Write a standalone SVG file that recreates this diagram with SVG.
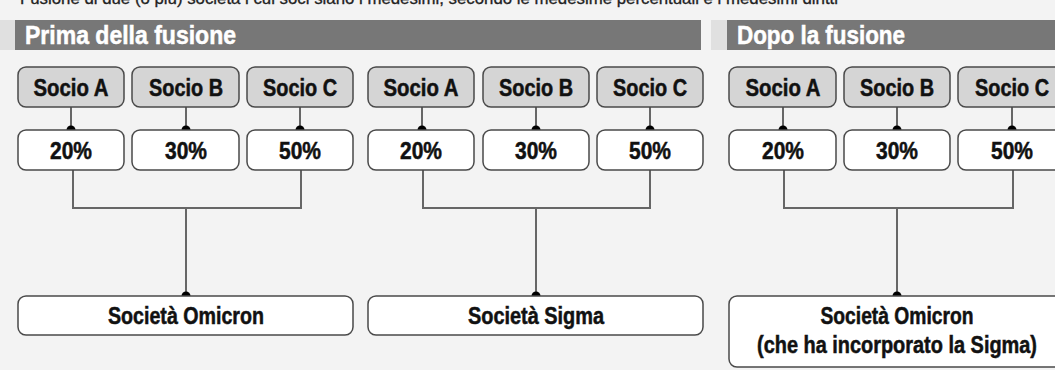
<svg xmlns="http://www.w3.org/2000/svg" width="1055" height="370" viewBox="0 0 1055 370">
<style>
.bg{fill:#f3f3f3}
.strip{fill:#e0e0e0}
.bar{fill:#777777}
.ht{font-family:"Liberation Sans",Arial,sans-serif;font-weight:bold;font-size:25px;fill:#ffffff;stroke:#ffffff;stroke-width:0.5}
.socio{fill:#d5d5d5;stroke:#4a4a4a;stroke-width:1.5}
.pct{fill:#ffffff;stroke:#4a4a4a;stroke-width:1.5}
.t{font-family:"Liberation Sans",Arial,sans-serif;font-weight:bold;font-size:23px;fill:#111111;stroke:#111111;stroke-width:0.5;text-anchor:middle}
.top{font-family:"Liberation Sans",Arial,sans-serif;font-size:16px;fill:#222222;stroke:#222222;stroke-width:0.3}
.ln{fill:none;stroke:#666666;stroke-width:2}
.dot{fill:#000000}
</style>
<rect class="bg" x="0" y="0" width="1055" height="370"/>
<text class="top" x="20" y="4" textLength="818" lengthAdjust="spacingAndGlyphs">Fusione di due (o più) società i cui soci siano i medesimi, secondo le medesime percentuali e i medesimi diritti</text>
<g id="header-prima">
<rect class="strip" x="0" y="20" width="15" height="30"/>
<rect class="bar" x="15" y="20" width="686" height="30"/>
<text class="ht" x="25" y="44" textLength="211" lengthAdjust="spacingAndGlyphs">Prima della fusione</text>
</g>
<g id="header-dopo">
<rect class="strip" x="711" y="20" width="16" height="30"/>
<rect class="bar" x="727" y="20" width="328" height="30"/>
<text class="ht" x="737" y="44" textLength="168" lengthAdjust="spacingAndGlyphs">Dopo la fusione</text>
</g>
<g id="connectors">
<path class="ln" d="M71 107V130M186 107V130M300 107V130M73 170V208H301V170M186 208V296"/>
<path class="ln" d="M422 107V130M536 107V130M650 107V130M423 170V208H650V170M536 208V296"/>
<path class="ln" d="M783 107V130M897 107V130M1012 107V130M784 170V208H1013V170M897 208V296"/>
<circle class="dot" cx="71" cy="130" r="4.5"/><circle class="dot" cx="186" cy="130" r="4.5"/><circle class="dot" cx="300" cy="130" r="4.5"/>
<circle class="dot" cx="422" cy="130" r="4.5"/><circle class="dot" cx="536" cy="130" r="4.5"/><circle class="dot" cx="650" cy="130" r="4.5"/>
<circle class="dot" cx="783" cy="130" r="4.5"/><circle class="dot" cx="897" cy="130" r="4.5"/><circle class="dot" cx="1012" cy="130" r="4.5"/>
<circle class="dot" cx="186" cy="296" r="4.5"/><circle class="dot" cx="536" cy="296" r="4.5"/><circle class="dot" cx="897" cy="296" r="4.5"/>
</g>
<g id="p1-socioA"><rect class="socio" x="18" y="67" width="106" height="40" rx="8"/><text class="t" x="71" y="96" textLength="75" lengthAdjust="spacingAndGlyphs">Socio A</text></g>
<g id="p1-socioB"><rect class="socio" x="132" y="67" width="107" height="40" rx="8"/><text class="t" x="186" y="96" textLength="74" lengthAdjust="spacingAndGlyphs">Socio B</text></g>
<g id="p1-socioC"><rect class="socio" x="247" y="67" width="106" height="40" rx="8"/><text class="t" x="300" y="96" textLength="74" lengthAdjust="spacingAndGlyphs">Socio C</text></g>
<g id="p1-pA"><rect class="pct" x="18" y="130" width="106" height="40" rx="8"/><text class="t" x="71" y="159" textLength="42" lengthAdjust="spacingAndGlyphs">20%</text></g>
<g id="p1-pB"><rect class="pct" x="132" y="130" width="107" height="40" rx="8"/><text class="t" x="186" y="159" textLength="42" lengthAdjust="spacingAndGlyphs">30%</text></g>
<g id="p1-pC"><rect class="pct" x="247" y="130" width="106" height="40" rx="8"/><text class="t" x="300" y="159" textLength="42" lengthAdjust="spacingAndGlyphs">50%</text></g>
<g id="omicron"><rect class="pct" x="18" y="296" width="335" height="39" rx="8"/><text class="t" x="186" y="324" textLength="156" lengthAdjust="spacingAndGlyphs">Società Omicron</text></g>
<g id="p2-socioA"><rect class="socio" x="368" y="67" width="106" height="40" rx="8"/><text class="t" x="421" y="96" textLength="75" lengthAdjust="spacingAndGlyphs">Socio A</text></g>
<g id="p2-socioB"><rect class="socio" x="483" y="67" width="106" height="40" rx="8"/><text class="t" x="536" y="96" textLength="74" lengthAdjust="spacingAndGlyphs">Socio B</text></g>
<g id="p2-socioC"><rect class="socio" x="597" y="67" width="106" height="40" rx="8"/><text class="t" x="650" y="96" textLength="74" lengthAdjust="spacingAndGlyphs">Socio C</text></g>
<g id="p2-pA"><rect class="pct" x="368" y="130" width="106" height="40" rx="8"/><text class="t" x="421" y="159" textLength="42" lengthAdjust="spacingAndGlyphs">20%</text></g>
<g id="p2-pB"><rect class="pct" x="483" y="130" width="106" height="40" rx="8"/><text class="t" x="536" y="159" textLength="42" lengthAdjust="spacingAndGlyphs">30%</text></g>
<g id="p2-pC"><rect class="pct" x="597" y="130" width="106" height="40" rx="8"/><text class="t" x="650" y="159" textLength="42" lengthAdjust="spacingAndGlyphs">50%</text></g>
<g id="sigma"><rect class="pct" x="368" y="296" width="335" height="39" rx="8"/><text class="t" x="536" y="324" textLength="136" lengthAdjust="spacingAndGlyphs">Società Sigma</text></g>
<g id="d-socioA"><rect class="socio" x="729" y="67" width="107" height="40" rx="8"/><text class="t" x="783" y="96" textLength="75" lengthAdjust="spacingAndGlyphs">Socio A</text></g>
<g id="d-socioB"><rect class="socio" x="844" y="67" width="106" height="40" rx="8"/><text class="t" x="897" y="96" textLength="74" lengthAdjust="spacingAndGlyphs">Socio B</text></g>
<g id="d-socioC"><rect class="socio" x="958" y="67" width="107" height="40" rx="8"/><text class="t" x="1012" y="96" textLength="74" lengthAdjust="spacingAndGlyphs">Socio C</text></g>
<g id="d-pA"><rect class="pct" x="729" y="130" width="107" height="40" rx="8"/><text class="t" x="783" y="159" textLength="42" lengthAdjust="spacingAndGlyphs">20%</text></g>
<g id="d-pB"><rect class="pct" x="844" y="130" width="106" height="40" rx="8"/><text class="t" x="897" y="159" textLength="42" lengthAdjust="spacingAndGlyphs">30%</text></g>
<g id="d-pC"><rect class="pct" x="958" y="130" width="107" height="40" rx="8"/><text class="t" x="1012" y="159" textLength="42" lengthAdjust="spacingAndGlyphs">50%</text></g>
<g id="d-omicron"><rect class="pct" x="729" y="296" width="336" height="71" rx="8"/><text class="t" x="897" y="324" textLength="153" lengthAdjust="spacingAndGlyphs">Società Omicron</text><text class="t" x="897" y="353" textLength="280" lengthAdjust="spacingAndGlyphs">(che ha incorporato la Sigma)</text></g>
</svg>
